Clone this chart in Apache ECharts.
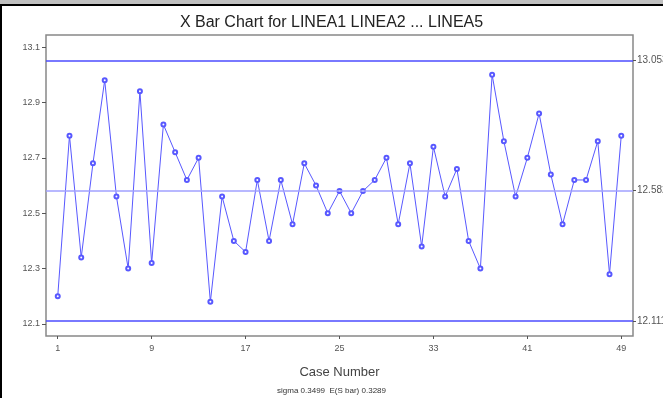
<!DOCTYPE html>
<html>
<head>
<meta charset="utf-8">
<script src="https://cdn.jsdelivr.net/npm/echarts@6/dist/echarts.min.js"></script>
<style>html,body{margin:0;padding:0;background:#fff;}#c{width:663px;height:398px;}</style>
</head>
<body>
<div id="c"></div>
<script>
var titleText = 'X Bar Chart for LINEA1 LINEA2 ... LINEA5';
var xTickLabels = [1, 9, 17, 25, 33, 41, 49];
var yTickLabels = [12.1, 12.3, 12.5, 12.7, 12.9, 13.1];
var caseNumbers = [1,2,3,4,5,6,7,8,9,10,11,12,13,14,15,16,17,18,19,20,21,22,23,24,25,26,27,28,29,30,31,32,33,34,35,36,37,38,39,40,41,42,43,44,45,46,47,48,49];
var xbarValues = [12.20,12.78,12.34,12.68,12.98,12.56,12.30,12.94,12.32,12.82,
                  12.72,12.62,12.70,12.18,12.56,12.40,12.36,12.62,12.40,12.62,
                  12.46,12.68,12.60,12.50,12.58,12.50,12.58,12.62,12.70,12.46,
                  12.68,12.38,12.74,12.56,12.66,12.40,12.30,13.00,12.76,12.56,
                  12.70,12.86,12.64,12.46,12.62,12.62,12.76,12.28,12.78];
var ucl = 13.053, cl = 12.582, lcl = 12.111;
var controlValues = [lcl, cl, ucl];
var controlLabels = ['12.111', '12.582', '13.053'];
var footerText = 'sigma 0.3499  E(S bar) 0.3289';

var seriesData = caseNumbers.map(function (c, i) { return [c, xbarValues[i]]; });
var font = 'Liberation Sans, Arial, sans-serif';
var chart = echarts.init(document.getElementById('c'));
chart.setOption({
  animation: false,
  backgroundColor: '#fff',
  title: {
    text: titleText, left: 'center', top: 10,
    textStyle: { fontFamily: font, fontSize: 16, fontWeight: 'normal', color: '#222' }
  },
  grid: { left: 46, right: 30, top: 35, bottom: 62, outerBoundsMode: 'none', containLabel: false,
    show: true, borderColor: '#888', borderWidth: 1.5, backgroundColor: '#fff' },
  xAxis: {
    type: 'value', min: 0, max: 50,
    name: 'Case Number', nameLocation: 'middle', nameGap: 30,
    nameTextStyle: { fontFamily: font, fontSize: 13, color: '#444' },
    axisLine: { show: false },
    splitLine: { show: false },
    axisTick: { show: true, length: 3, inside: false, customValues: xTickLabels, lineStyle: { color: '#555' } },
    axisLabel: { customValues: xTickLabels, fontFamily: font, fontSize: 9, color: '#555', margin: 8 }
  },
  yAxis: [{
    type: 'value', min: 12.0566, max: 13.1434,
    axisLine: { show: false },
    splitLine: { show: false },
    axisTick: { show: true, length: 4, customValues: yTickLabels, lineStyle: { color: '#555' } },
    axisLabel: { customValues: yTickLabels, fontFamily: font, fontSize: 9, color: '#555', margin: 6,
      formatter: function (v) { return v.toFixed(1); } }
  }, {
    type: 'value', min: 12.0566, max: 13.1434, position: 'right',
    axisLine: { show: false },
    splitLine: { show: false },
    axisTick: { show: true, length: 3, customValues: controlValues, lineStyle: { color: '#555' } },
    axisLabel: { customValues: controlValues, fontFamily: font, fontSize: 10, color: '#555', margin: 4,
      formatter: function (v) { var i = controlValues.indexOf(v); return i >= 0 ? controlLabels[i] : v.toFixed(3); } }
  }],
  series: [{
    type: 'line', data: seriesData,
    symbol: 'emptyCircle', symbolSize: 4,
    lineStyle: { color: '#5858ff', width: 1 },
    itemStyle: { color: '#5858ff', borderWidth: 1 },
    markLine: {
      silent: true, symbol: 'none', label: { show: false },
      data: [
        { yAxis: ucl, lineStyle: { color: '#4d4dff', width: 1.5, type: 'solid' } },
        { yAxis: cl, lineStyle: { color: '#a0a0ff', width: 1.5, type: 'solid' } },
        { yAxis: lcl, lineStyle: { color: '#4d4dff', width: 1.5, type: 'solid' } }
      ]
    }
  }],
  graphic: [
    { type: 'rect', shape: { x: 0, y: 0, width: 663, height: 4 }, style: { fill: '#c0c0c0' } },
    { type: 'rect', shape: { x: 0, y: 4, width: 663, height: 2 }, style: { fill: '#000' } },
    { type: 'rect', shape: { x: 0, y: 4, width: 2, height: 394 }, style: { fill: '#000' } },
    { type: 'text', left: 'center', top: 387,
      style: { text: footerText, fontFamily: font, fontSize: 8, fill: '#333' } }
  ]
});
</script>
</body>
</html>
